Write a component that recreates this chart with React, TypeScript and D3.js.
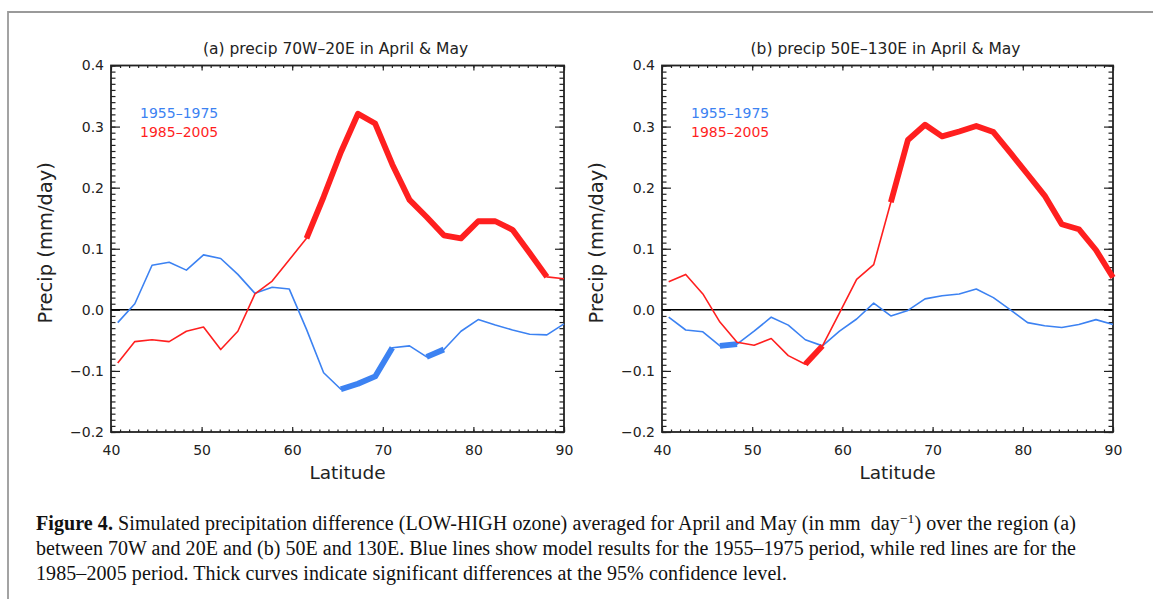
import { useEffect, useRef } from "react"
import * as d3 from "d3"

// model latitude grid (deg N), 40N to the pole
const lats = [
  40.74, 42.63, 44.53, 46.42, 48.32, 50.21, 52.11, 54.0, 55.89, 57.79, 59.68, 61.58, 63.47, 65.37,
  67.26, 69.16, 71.05, 72.95, 74.84, 76.74, 78.63, 80.53, 82.42, 84.32, 86.21, 88.11, 90.0,
]

// (a) 70W-20E, precip difference in mm/day
const blueA = [
  -0.021, 0.01, 0.073, 0.078, 0.065, 0.09, 0.084, 0.058, 0.027, 0.037, 0.034, -0.032, -0.103, -0.13,
  -0.121, -0.109, -0.062, -0.059, -0.077, -0.065, -0.035, -0.016, -0.025, -0.033, -0.04, -0.041, -0.023,
]
const redA = [
  -0.087, -0.052, -0.049, -0.052, -0.035, -0.028, -0.065, -0.035, 0.026, 0.047, 0.082, 0.117, 0.185, 0.258,
  0.321, 0.305, 0.238, 0.18, 0.152, 0.122, 0.117, 0.145, 0.145, 0.131, 0.093, 0.054, 0.051,
]
// (b) 50E-130E
const blueB = [
  -0.012, -0.033, -0.036, -0.059, -0.056, -0.035, -0.012, -0.025, -0.049, -0.059, -0.035, -0.015, 0.011, -0.01,
  -0.001, 0.018, 0.023, 0.026, 0.034, 0.02, 0.0, -0.021, -0.026, -0.029, -0.024, -0.016, -0.024,
]
const redB = [
  0.046, 0.058, 0.026, -0.02, -0.053, -0.058, -0.047, -0.075, -0.089, -0.059, -0.005, 0.05, 0.074, 0.176,
  0.278, 0.303, 0.284, 0.292, 0.301, 0.291, 0.257, 0.222, 0.187, 0.14, 0.132, 0.098, 0.053,
]

// indices of grid points where the difference is significant (95%)
const blueSigA = [13, 14, 15, 16, 18, 19]
const redSigA = [11, 12, 13, 14, 15, 16, 17, 18, 19, 20, 21, 22, 23, 24, 25]
const blueSigB = [3, 4]
const redSigB = [8, 9, 13, 14, 15, 16, 17, 18, 19, 20, 21, 22, 23, 24, 25, 26]

const xTicks = [40, 50, 60, 70, 80, 90]
const yTicks = [-0.2, -0.1, 0.0, 0.1, 0.2, 0.3, 0.4]
const legendLabels = ["1955\u20131975", "1985\u20132005"]

const W = 1153
const H = 599
const BLUE = "#3c82f2"
const RED = "#ff1f1f"
const INK = "#222"
const SANS = "'DejaVu Sans', sans-serif"

const panels = [
  { title: "(a) precip 70W\u201320E in April & May", blue: blueA, red: redA, blueSig: blueSigA, redSig: redSigA, left: 111, right: 564 },
  { title: "(b) precip 50E\u2013130E in April & May", blue: blueB, red: redB, blueSig: blueSigB, redSig: redSigB, left: 662, right: 1113 },
]

// split significant indices into consecutive runs
function runs(idx: number[]) {
  const out: number[][] = []
  idx.forEach((i) => {
    const last = out[out.length - 1]
    if (last && last[last.length - 1] === i - 1) last.push(i)
    else out.push([i])
  })
  return out.filter((r) => r.length > 1)
}

export default function App() {
  const svgRef = useRef<SVGSVGElement | null>(null)

  useEffect(() => {
    if (!svgRef.current) return
    const svg = d3.select(svgRef.current)
    svg.selectAll("*").remove()

    // figure frame (cropped page box)
    svg.append("path").attr("d", `M8,${H} V12 H${W}`).attr("fill", "none").attr("stroke", "#9a9a9a").attr("stroke-width", 1.8)

    const top = 65.5
    const bottom = 432

    panels.forEach((p) => {
      const x = d3.scaleLinear().domain([40, 90]).range([p.left, p.right])
      const y = d3.scaleLinear().domain([-0.2, 0.4]).range([bottom, top])
      const g = svg.append("g")
      const minorX = d3.range(40, 90.5, 1)
      const minorY = d3.range(-20, 40.5, 1).map((v) => v / 100)

      const clean = (sel: d3.Selection<SVGGElement, unknown, null, undefined>) => {
        sel.select(".domain").remove()
        sel.selectAll("line").attr("stroke", INK).attr("stroke-width", 1.2)
        sel.attr("font-family", SANS).attr("font-size", 14)
        sel.selectAll("text").attr("fill", INK)
      }
      const none = () => ""

      // inward ticks on all four sides
      g.append("g").attr("transform", `translate(0,${bottom})`).call(d3.axisBottom(x).tickValues(minorX).tickSize(-2.5).tickFormat(none)).call(clean)
      g.append("g").attr("transform", `translate(0,${bottom})`)
        .call(d3.axisBottom(x).tickValues(xTicks).tickSize(-5).tickPadding(13).tickFormat(d3.format("d"))).call(clean)
      g.append("g").attr("transform", `translate(0,${top})`).call(d3.axisTop(x).tickValues(minorX).tickSize(-2.5).tickFormat(none)).call(clean)
      g.append("g").attr("transform", `translate(0,${top})`).call(d3.axisTop(x).tickValues(xTicks).tickSize(-5).tickFormat(none)).call(clean)
      g.append("g").attr("transform", `translate(${p.left},0)`).call(d3.axisLeft(y).tickValues(minorY).tickSize(-4.5).tickFormat(none)).call(clean)
      g.append("g").attr("transform", `translate(${p.left},0)`)
        .call(d3.axisLeft(y).tickValues(yTicks).tickSize(-9).tickPadding(7).tickFormat(d3.format(".1f"))).call(clean)
      g.append("g").attr("transform", `translate(${p.right},0)`).call(d3.axisRight(y).tickValues(minorY).tickSize(-4.5).tickFormat(none)).call(clean)
      g.append("g").attr("transform", `translate(${p.right},0)`).call(d3.axisRight(y).tickValues(yTicks).tickSize(-9).tickFormat(none)).call(clean)

      g.append("rect")
        .attr("x", p.left).attr("y", top).attr("width", p.right - p.left).attr("height", bottom - top)
        .attr("fill", "none").attr("stroke", INK).attr("stroke-width", 1.8)

      // zero line
      g.append("line")
        .attr("x1", x(40)).attr("x2", x(90)).attr("y1", y(0)).attr("y2", y(0))
        .attr("stroke", "#000").attr("stroke-width", 1.5)

      const series = [
        { values: p.blue, sig: p.blueSig, color: BLUE },
        { values: p.red, sig: p.redSig, color: RED },
      ]
      series.forEach((s) => {
        const path = d3.line<number>().x((i) => x(lats[i])).y((i) => y(s.values[i]))
        g.append("path")
          .attr("d", path(d3.range(s.values.length)))
          .attr("fill", "none").attr("stroke", s.color).attr("stroke-width", 1.6).attr("stroke-linejoin", "round")
        runs(s.sig).forEach((r) => {
          g.append("path")
            .attr("d", path(r))
            .attr("fill", "none").attr("stroke", s.color).attr("stroke-width", 5.8).attr("stroke-linejoin", "round")
        })
      })

      // legend
      legendLabels.forEach((t, i) => {
        g.append("text")
          .attr("x", p.left + 29).attr("y", 118 + i * 18.5)
          .attr("font-family", SANS).attr("font-size", 14)
          .attr("fill", i === 0 ? BLUE : RED)
          .text(t)
      })

      // titles
      const cx = (p.left + p.right) / 2
      g.append("text")
        .attr("x", cx - 2).attr("y", 54).attr("text-anchor", "middle")
        .attr("font-family", SANS).attr("font-size", 15.5).attr("fill", INK)
        .text(p.title)
      g.append("text")
        .attr("x", cx + 10).attr("y", 479).attr("text-anchor", "middle")
        .attr("font-family", SANS).attr("font-size", 18.5).attr("fill", INK)
        .text("Latitude")
      g.append("text")
        .attr("transform", `translate(${p.left - 59},${(top + bottom) / 2 - 6}) rotate(-90)`)
        .attr("text-anchor", "middle")
        .attr("font-family", SANS).attr("font-size", 19.5).attr("fill", INK)
        .text("Precip (mm/day)")
    })

    // caption
    const cap = svg.append("g").attr("font-family", "'Liberation Serif', serif").attr("font-size", 20).attr("fill", "#111")
    const l1 = cap.append("text").attr("x", 36).attr("y", 530).attr("textLength", 1040).attr("lengthAdjust", "spacing")
    l1.append("tspan").attr("font-weight", "bold").text("Figure 4.")
    l1.append("tspan").text(" Simulated precipitation difference (LOW-HIGH ozone) averaged for April and May (in mm\u00a0 day")
    l1.append("tspan").attr("dy", -7).attr("font-size", 13.5).text("\u22121")
    l1.append("tspan").attr("dy", 7).text(") over the region (a)")
    cap.append("text").attr("x", 36).attr("y", 555).attr("textLength", 1040).attr("lengthAdjust", "spacing")
      .text("between 70W and 20E and (b) 50E and 130E. Blue lines show model results for the 1955\u20131975 period, while red lines are for the")
    cap.append("text").attr("x", 36).attr("y", 580).attr("textLength", 751).attr("lengthAdjust", "spacing")
      .text("1985\u20132005 period. Thick curves indicate significant differences at the 95% confidence level.")
  }, [])

  return (
    <svg
      ref={svgRef}
      width={W}
      height={H}
      style={{ position: "absolute", left: 0, top: 0, background: "#fff" }}
    />
  )
}
